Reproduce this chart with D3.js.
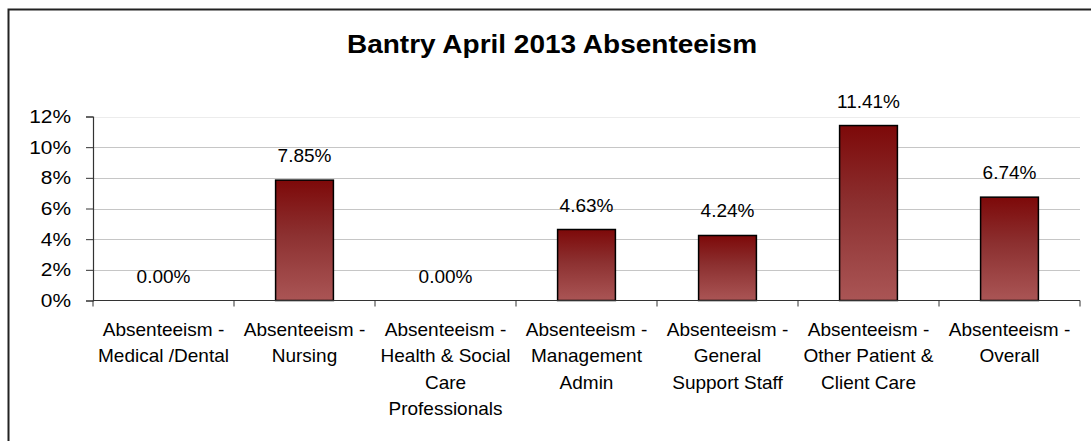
<!DOCTYPE html>
<html>
<head>
<meta charset="utf-8">
<script src="https://cdn.jsdelivr.net/npm/d3@7"></script>
<style>
  body { margin: 0; background: #fff; }
  text { font-family: "Liberation Sans", Arial, sans-serif; fill: #000; }
</style>
</head>
<body>
<div id="chart"></div>
<script>
// Chart data
const categories = [
    ["Absenteeism -", "Medical /Dental"],
    ["Absenteeism -", "Nursing"],
    ["Absenteeism -", "Health & Social", "Care", "Professionals"],
    ["Absenteeism -", "Management", "Admin"],
    ["Absenteeism -", "General", "Support Staff"],
    ["Absenteeism -", "Other Patient &", "Client Care"],
    ["Absenteeism -", "Overall"]
];
const values = [0.00, 7.85, 0.00, 4.63, 4.24, 11.41, 6.74];
const yTicks = [0, 2, 4, 6, 8, 10, 12];
const title = "Bantry April 2013 Absenteeism";

const width = 1091, height = 441;
const margin = {top: 116.5, bottom: 140.5, left: 93, right: 11};

const svg = d3.select("#chart")
    .append("svg")
    .attr("width", width)
    .attr("height", height);

// bar gradient, dark on top, lighter toward the bottom
const grad = svg.append("defs").append("linearGradient")
    .attr("id", "barGrad")
    .attr("x1", 0).attr("y1", 0).attr("x2", 0).attr("y2", 1);
grad.append("stop").attr("offset", "0%").attr("stop-color", "#7d0909");
grad.append("stop").attr("offset", "45%").attr("stop-color", "#8c3030");
grad.append("stop").attr("offset", "100%").attr("stop-color", "#aa5555");

// outer frame (runs off the right and bottom edges)
svg.append("rect")
    .attr("x", 8.5).attr("y", 9.5)
    .attr("width", 1200).attr("height", 600)
    .attr("fill", "none")
    .attr("stroke", "#222")
    .attr("stroke-width", 2);

const idx = d3.range(values.length);

const xScale = d3.scaleBand()
    .domain(idx)
    .range([margin.left, width - margin.right]);

const yScale = d3.scaleLinear()
    .domain([0, 12])
    .range([height - margin.bottom, margin.top]);

// gridlines
svg.append("g")
    .selectAll("line")
    .data(yTicks.filter(d => d > 0))
    .enter().append("line")
    .attr("x1", margin.left)
    .attr("x2", width - margin.right)
    .attr("y1", d => Math.round(yScale(d)) + 0.5)
    .attr("y2", d => Math.round(yScale(d)) + 0.5)
    .attr("stroke", d => d === 12 ? "#ececec" : "#c6c6c6")
    .attr("stroke-width", 1);

// y axis
const yAxis = svg.append("g")
    .attr("transform", `translate(${margin.left},0)`)
    .call(d3.axisLeft(yScale)
        .tickValues(yTicks)
        .tickSize(7)
        .tickPadding(13)
        .tickFormat(d => d + "%"));
yAxis.select(".domain").attr("stroke", "#333").attr("stroke-width", 1.2);
yAxis.selectAll(".tick line").attr("stroke", "#333");
yAxis.selectAll(".tick text")
    .style("font-size", "19px")
    .style("font-family", "'Liberation Sans', Arial, sans-serif")
    .attr("fill", "#000")
    .attr("transform", "translate(-20,0) scale(1.1,1) translate(18.2,0)");

// bars
const barW = xScale.bandwidth() * 0.41;
svg.selectAll(".bar")
    .data(values)
    .enter().append("rect")
    .attr("class", "bar")
    .attr("x", (d, i) => xScale(i) + xScale.bandwidth() / 2 - barW / 2)
    .attr("width", barW)
    .attr("y", d => yScale(d))
    .attr("height", d => yScale(0) - yScale(d))
    .attr("fill", "url(#barGrad)")
    .attr("stroke", d => d > 0 ? "#000" : "none")
    .attr("stroke-width", 1.5);

// x axis line and category ticks
const y0 = yScale(0);
svg.append("line")
    .attr("x1", margin.left).attr("x2", width - margin.right)
    .attr("y1", y0).attr("y2", y0)
    .attr("stroke", "#333").attr("stroke-width", 1.2);

svg.append("g")
    .selectAll("line")
    .data(idx.concat([values.length]))
    .enter().append("line")
    .attr("x1", i => i < values.length ? xScale(i) : xScale.range()[1])
    .attr("x2", i => i < values.length ? xScale(i) : xScale.range()[1])
    .attr("y1", y0)
    .attr("y2", y0 + 6)
    .attr("stroke", "#333");

// value labels
svg.selectAll(".val")
    .data(values)
    .enter().append("text")
    .attr("class", "val")
    .attr("x", (d, i) => xScale(i) + xScale.bandwidth() / 2)
    .attr("y", d => yScale(d) - 18)
    .attr("text-anchor", "middle")
    .style("font-size", "19px")
    .text(d => d.toFixed(2) + "%");

// category labels
const cat = svg.selectAll(".cat")
    .data(categories)
    .enter().append("text")
    .attr("class", "cat")
    .attr("text-anchor", "middle")
    .style("font-size", "19px");

cat.selectAll("tspan")
    .data((d, i) => d.map(line => ({line, i})))
    .enter().append("tspan")
    .attr("x", d => xScale(d.i) + xScale.bandwidth() / 2)
    .attr("y", (d, j) => y0 + 35 + j * 26.5)
    .text(d => d.line);

// title, slightly stretched like the original
svg.append("text")
    .attr("transform", "translate(552,53) scale(1.12,1)")
    .attr("text-anchor", "middle")
    .style("font-size", "25px")
    .style("font-weight", "bold")
    .text(title);
</script>
</body>
</html>
